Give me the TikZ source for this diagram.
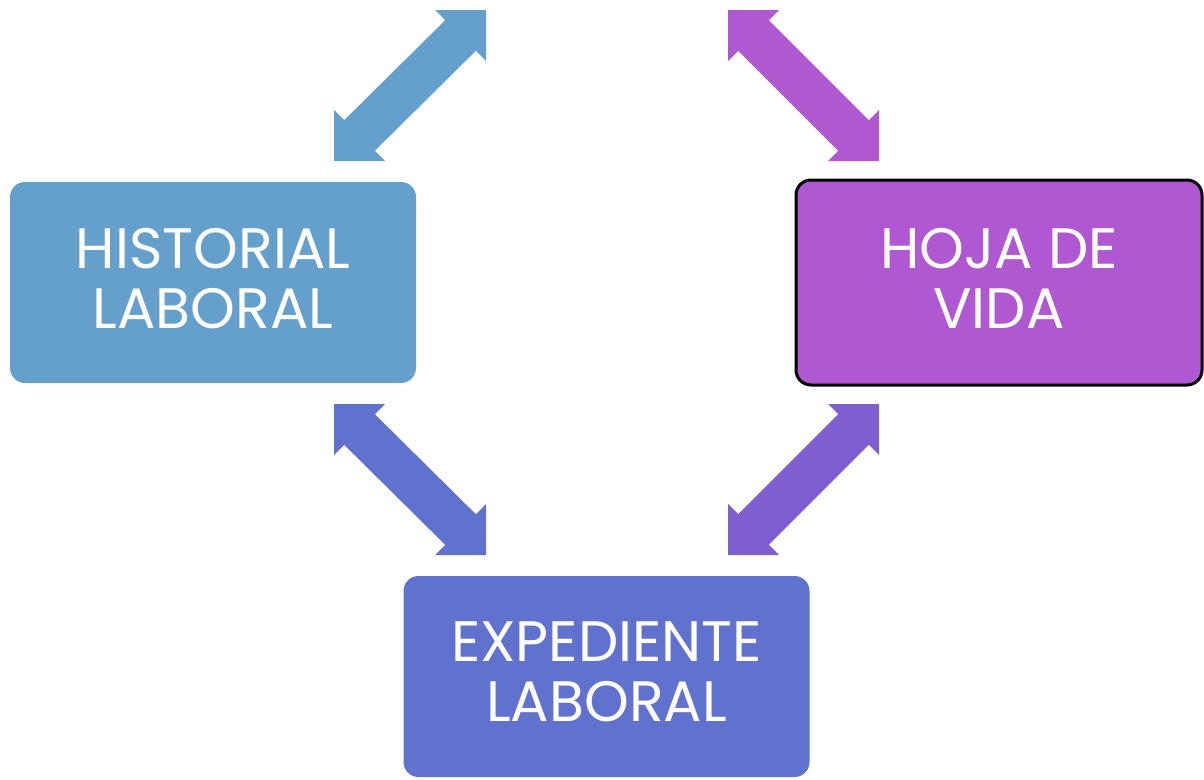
\documentclass[tikz,border=0pt]{standalone}
\usepackage{fontspec}
\setmainfont{Poppins}
\definecolor{cblue}{RGB}{100,160,203}
\definecolor{cpurple}{RGB}{176,88,210}
\definecolor{cindigo}{RGB}{96,114,206}
\definecolor{cviolet}{RGB}{127,95,208}
\newcommand\hl{51}
\newcommand\liftup{\rule[-9pt]{0pt}{9pt}}
% #1 colour, (#2,#3) first corner, (#4,#5) opposite corner, #6 #7 signs toward second corner
\newcommand\dblarrow[7]{%
  \fill[#1] (#2,#3) -- ({#2+(#6)*\hl},#3) -- ({#2+(#6)*0.8*\hl},{#3+(#7)*0.2*\hl})
    -- ({#4-(#6)*0.2*\hl},{#5-(#7)*0.8*\hl}) -- (#4,{#5-(#7)*\hl}) -- (#4,#5)
    -- ({#4-(#6)*\hl},#5) -- ({#4-(#6)*0.8*\hl},{#5-(#7)*0.2*\hl})
    -- ({#2+(#6)*0.2*\hl},{#3+(#7)*0.8*\hl}) -- (#2,{#3+(#7)*\hl}) -- cycle;}
\tikzset{
  box/.style={rounded corners=15pt, minimum width=406pt, minimum height=201pt,
    align=center, text=white, inner sep=0pt,
    font=\fontsize{57}{60}\selectfont},
}
\begin{document}
\begin{tikzpicture}[x=1pt,y=-1pt]
\useasboundingbox (0,0) rectangle (1204,779);
\node[box, fill=cblue] (hist) at (213,282.5) {HISTORIAL\\LABORAL\liftup};
\node[box, fill=cpurple, draw=black, line width=3pt, minimum width=406pt, minimum height=205pt] (hoja) at (999,282.5) {HOJA DE\\VIDA\liftup};
\node[box, fill=cindigo] (exp) at (606.5,676.5) {EXPEDIENTE\\LABORAL\liftup};
\dblarrow{cblue}{486}{10}{334}{161}{-1}{1}
\dblarrow{cpurple}{728}{10}{879}{161}{1}{1}
\dblarrow{cindigo}{334}{404}{486}{555}{1}{1}
\dblarrow{cviolet}{879}{404}{728}{555}{-1}{1}
\end{tikzpicture}
\end{document}
